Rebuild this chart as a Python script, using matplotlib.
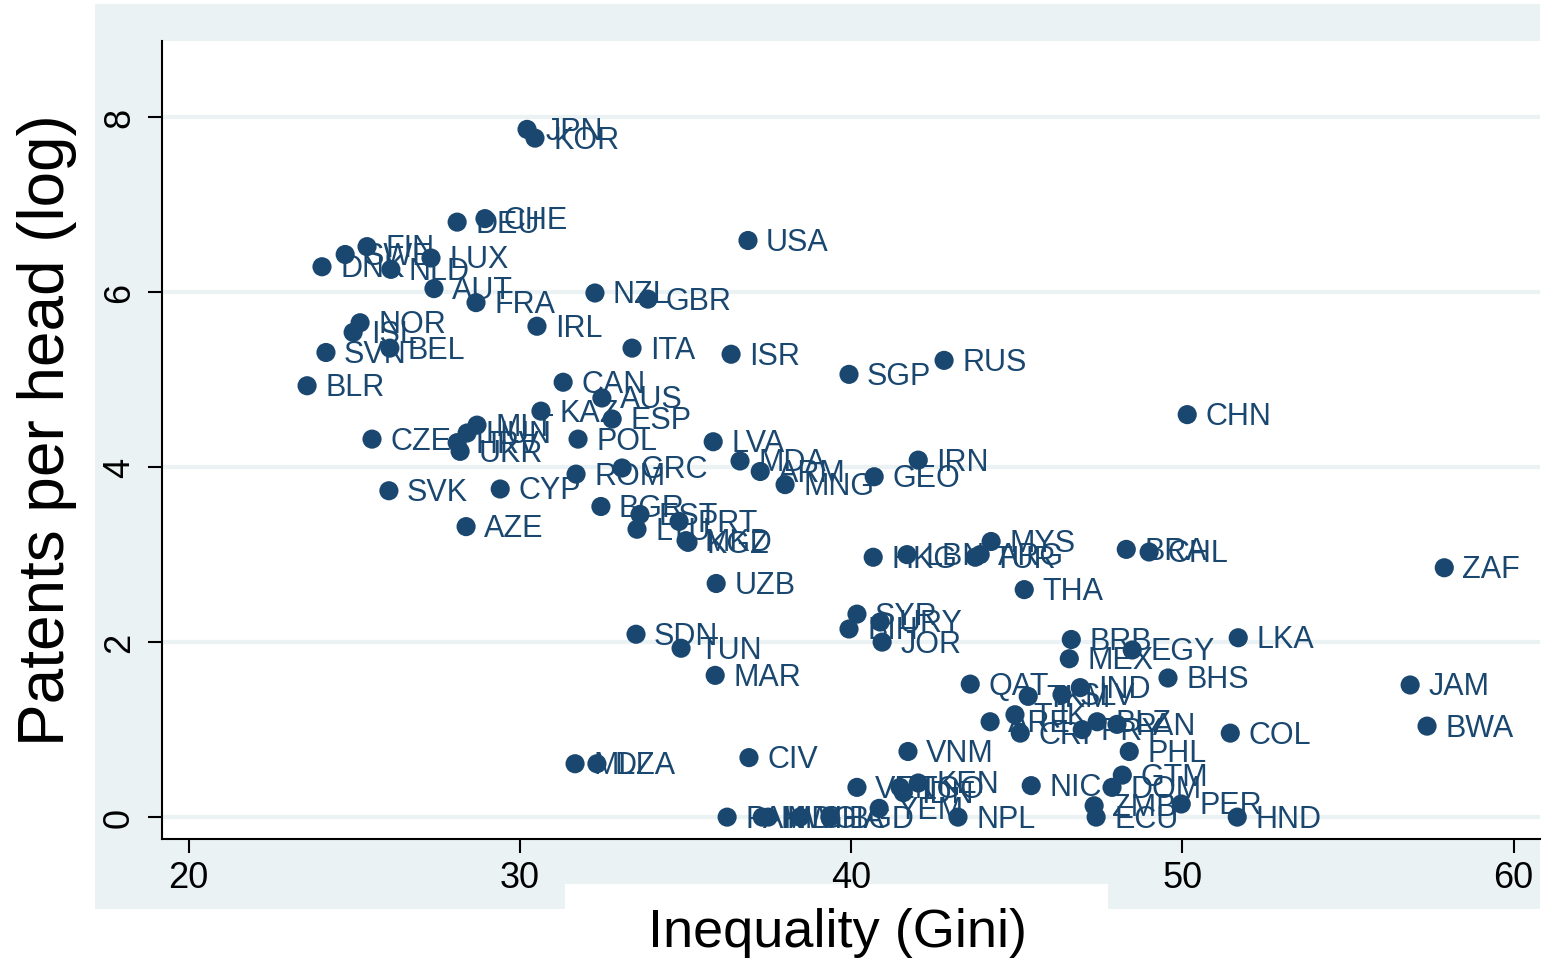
import matplotlib
matplotlib.use("Agg")
import matplotlib.pyplot as plt
from matplotlib.patches import Rectangle

# country codes, Gini and log patents per head
codes = ["JPN", "KOR", "DEU", "CHE", "FIN", "SWE", "LUX", "DNK", "NLD", "AUT",
         "FRA", "NZL", "GBR", "USA", "NOR", "ISL", "IRL", "SVN", "BEL", "ITA",
         "ISR", "SGP", "RUS", "BLR", "CAN", "AUS", "KAZ", "ESP", "MLT", "HUN",
         "HRV", "UKR", "CZE", "POL", "LVA", "MDA", "ARM", "MNG", "GEO", "IRN",
         "CHN", "ROM", "GRC", "SVK", "CYP", "AZE", "BGR", "EST", "LTU", "PRT",
         "MKD", "KGZ", "UZB", "HKG", "LBN", "TUR", "ARG", "MYS", "THA", "BRA",
         "CHL", "ZAF", "SYR", "URY", "BIH", "JOR", "SDN", "TUN", "MAR", "BRB",
         "MEX", "EGY", "LKA", "BHS", "JAM", "BWA", "QAT", "IND", "TKM", "SLV",
         "TJK", "ARE", "CRI", "PRY", "BLZ", "PAN", "COL", "PHL", "GTM", "DOM",
         "NIC", "ZMB", "PER", "ECU", "HND", "NPL", "VNM", "CIV", "MLI", "DZA",
         "VEN", "KEN", "IDN", "TGO", "YEM", "PAK", "MWI", "MDG", "GHA", "BGD"]

gini = [30.22, 30.46, 28.11, 28.95, 25.39, 24.73, 27.32, 24.03, 26.11, 27.41,
        28.68, 32.27, 33.87, 36.89, 25.18, 24.97, 30.52, 24.15, 26.08, 33.39,
        36.38, 39.94, 42.81, 23.58, 31.31, 32.48, 30.64, 32.79, 28.71, 28.41,
        28.11, 28.20, 25.54, 31.76, 35.84, 36.65, 37.26, 38.01, 40.70, 42.03,
        50.15, 31.70, 33.09, 26.05, 29.41, 28.38, 32.45, 33.63, 33.54, 34.81,
        35.02, 35.08, 35.93, 40.67, 41.69, 43.75, 43.90, 44.23, 45.23, 48.31,
        49.00, 57.91, 40.18, 40.88, 39.94, 40.94, 33.51, 34.87, 35.90, 46.65,
        46.59, 48.49, 51.69, 49.57, 56.88, 57.39, 43.60, 46.92, 45.35, 46.37,
        44.95, 44.20, 45.11, 46.98, 47.43, 48.03, 51.45, 48.40, 48.19, 47.88,
        45.44, 47.34, 49.97, 47.40, 51.66, 43.23, 41.72, 36.92, 31.67, 32.33,
        40.18, 42.03, 41.58, 41.48, 40.85, 36.26, 37.32, 37.50, 38.46, 39.37]

patents = [7.86, 7.76, 6.80, 6.84, 6.52, 6.43, 6.39, 6.29, 6.26, 6.04,
           5.88, 5.99, 5.92, 6.59, 5.65, 5.54, 5.61, 5.31, 5.36, 5.36,
           5.29, 5.06, 5.22, 4.93, 4.97, 4.79, 4.64, 4.55, 4.48, 4.39,
           4.28, 4.18, 4.32, 4.32, 4.29, 4.07, 3.95, 3.80, 3.89, 4.08,
           4.60, 3.92, 3.99, 3.73, 3.75, 3.32, 3.55, 3.46, 3.29, 3.38,
           3.16, 3.14, 2.67, 2.97, 3.00, 2.97, 3.00, 3.15, 2.60, 3.06,
           3.03, 2.85, 2.32, 2.23, 2.15, 2.00, 2.09, 1.93, 1.62, 2.03,
           1.81, 1.91, 2.05, 1.59, 1.51, 1.04, 1.52, 1.48, 1.38, 1.40,
           1.17, 1.09, 0.96, 1.00, 1.09, 1.06, 0.96, 0.75, 0.48, 0.34,
           0.36, 0.13, 0.15, 0.00, 0.00, 0.00, 0.75, 0.68, 0.61, 0.61,
           0.34, 0.39, 0.28, 0.34, 0.10, 0.00, 0.00, 0.00, 0.00, 0.00]

xticks = [20, 30, 40, 50, 60]
yticks = [0, 2, 4, 6, 8]

navy = "#1a476f"
bg = "#eaf2f3"
W, H = 1564, 962

plt.rcParams["font.family"] = ["Liberation Sans", "DejaVu Sans"]

fig = plt.figure(figsize=(W / 100, H / 100), dpi=100)
fig.patch.set_facecolor("white")
# stata style graph region and the white patch under the x title
fig.add_artist(Rectangle((95 / W, 1 - 910 / H), (1540 - 95) / W, 905 / H,
                         transform=fig.transFigure, facecolor=bg,
                         edgecolor="none", zorder=-2))
fig.add_artist(Rectangle((565 / W, 0), (1108 - 565) / W, (962 - 885) / H,
                         transform=fig.transFigure, facecolor="white",
                         edgecolor="none", zorder=-1))

ax = fig.add_axes([162 / W, 1 - 840 / H, (1540 - 162) / W, (840 - 42) / H])
ax.set_facecolor("white")
ax.set_xlim(19.2, 60.8)
ax.set_ylim(-0.25, 8.87)

for yv in yticks:
    ax.axhline(yv, color=bg, lw=3, zorder=0)

ax.scatter(gini, patents, s=190, color=navy, edgecolors="none", zorder=3)
for c, x, y in zip(codes, gini, patents):
    ax.annotate(c, (x, y), xytext=(13, -1), textcoords="offset points",
                ha="left", va="center", fontsize=22, color=navy, zorder=4)

ax.set_xticks(xticks)
ax.set_yticks(yticks)
ax.tick_params(axis="both", labelsize=26, length=10, width=1.5, color="black")
ax.tick_params(axis="y", labelrotation=90, pad=8)
ax.tick_params(axis="x", pad=5)
for lab in ax.get_yticklabels():
    lab.set_va("center")

for side in ["top", "right"]:
    ax.spines[side].set_visible(False)
for side in ["left", "bottom"]:
    ax.spines[side].set_linewidth(1.5)

ax.set_xlabel("Inequality (Gini)", fontsize=39)
ax.set_ylabel("Patents per head (log)", fontsize=46)
ax.xaxis.set_label_coords((837 - 162) / 1378, (840 - 933) / 798)
ax.yaxis.set_label_coords((47 - 162) / 1378, (840 - 430) / 798)
ax.xaxis.label.set_va("center")
ax.yaxis.label.set_va("center")

fig.savefig("out.png", dpi=100, facecolor=fig.get_facecolor())
